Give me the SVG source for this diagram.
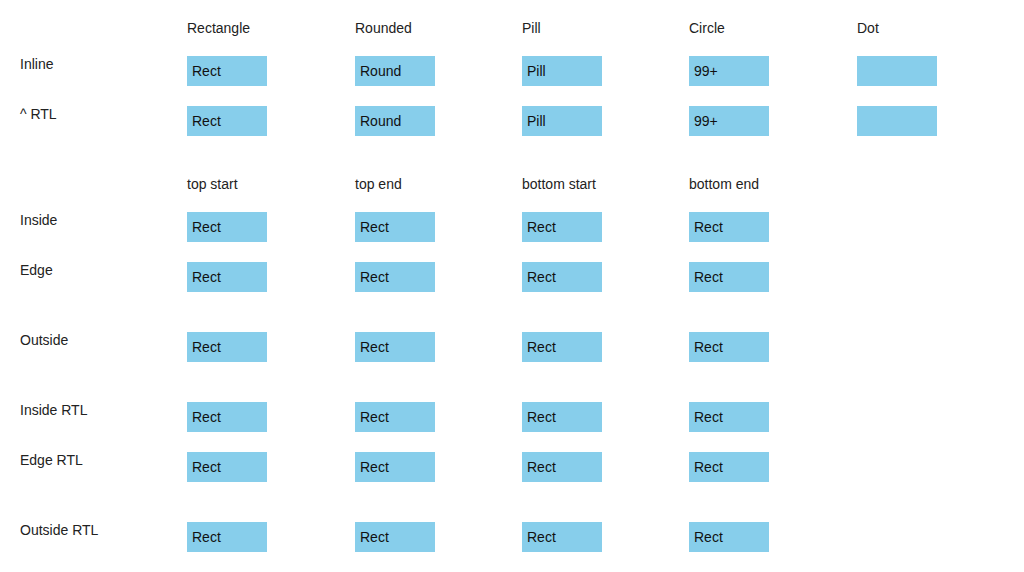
<svg xmlns="http://www.w3.org/2000/svg" width="1024" height="572" viewBox="0 0 1024 572">
<style>
text{font-family:"Liberation Sans",Arial,sans-serif;font-size:14px;fill:#222}
.b{fill:#87ceeb}
.t{fill:#111}
</style>
<rect width="1024" height="572" fill="#fff"/>
<g id="headers1">
<text x="187" y="33">Rectangle</text>
<text x="355" y="33">Rounded</text>
<text x="522" y="33">Pill</text>
<text x="689" y="33">Circle</text>
<text x="857" y="33">Dot</text>
</g>
<g id="labels">
<text x="20" y="69">Inline</text>
<text x="20" y="119">^ RTL</text>
<text x="20" y="225">Inside</text>
<text x="20" y="275">Edge</text>
<text x="20" y="345">Outside</text>
<text x="20" y="415">Inside RTL</text>
<text x="20" y="465">Edge RTL</text>
<text x="20" y="535">Outside RTL</text>
</g>
<g id="headers2">
<text x="187" y="189">top start</text>
<text x="355" y="189">top end</text>
<text x="522" y="189">bottom start</text>
<text x="689" y="189">bottom end</text>
</g>
<g id="row-inline">
<rect class="b" x="187" y="56" width="80" height="30"/><text class="t" x="192" y="76">Rect</text>
<rect class="b" x="355" y="56" width="80" height="30"/><text class="t" x="360" y="76">Round</text>
<rect class="b" x="522" y="56" width="80" height="30"/><text class="t" x="527" y="76">Pill</text>
<rect class="b" x="689" y="56" width="80" height="30"/><text class="t" x="694" y="76">99+</text>
<rect class="b" x="857" y="56" width="80" height="30"/>
</g>
<g id="row-rtl">
<rect class="b" x="187" y="106" width="80" height="30"/><text class="t" x="192" y="126">Rect</text>
<rect class="b" x="355" y="106" width="80" height="30"/><text class="t" x="360" y="126">Round</text>
<rect class="b" x="522" y="106" width="80" height="30"/><text class="t" x="527" y="126">Pill</text>
<rect class="b" x="689" y="106" width="80" height="30"/><text class="t" x="694" y="126">99+</text>
<rect class="b" x="857" y="106" width="80" height="30"/>
</g>
<g id="row-inside">
<rect class="b" x="187" y="212" width="80" height="30"/><text class="t" x="192" y="232">Rect</text>
<rect class="b" x="355" y="212" width="80" height="30"/><text class="t" x="360" y="232">Rect</text>
<rect class="b" x="522" y="212" width="80" height="30"/><text class="t" x="527" y="232">Rect</text>
<rect class="b" x="689" y="212" width="80" height="30"/><text class="t" x="694" y="232">Rect</text>
</g>
<g id="row-edge">
<rect class="b" x="187" y="262" width="80" height="30"/><text class="t" x="192" y="282">Rect</text>
<rect class="b" x="355" y="262" width="80" height="30"/><text class="t" x="360" y="282">Rect</text>
<rect class="b" x="522" y="262" width="80" height="30"/><text class="t" x="527" y="282">Rect</text>
<rect class="b" x="689" y="262" width="80" height="30"/><text class="t" x="694" y="282">Rect</text>
</g>
<g id="row-outside">
<rect class="b" x="187" y="332" width="80" height="30"/><text class="t" x="192" y="352">Rect</text>
<rect class="b" x="355" y="332" width="80" height="30"/><text class="t" x="360" y="352">Rect</text>
<rect class="b" x="522" y="332" width="80" height="30"/><text class="t" x="527" y="352">Rect</text>
<rect class="b" x="689" y="332" width="80" height="30"/><text class="t" x="694" y="352">Rect</text>
</g>
<g id="row-inside-rtl">
<rect class="b" x="187" y="402" width="80" height="30"/><text class="t" x="192" y="422">Rect</text>
<rect class="b" x="355" y="402" width="80" height="30"/><text class="t" x="360" y="422">Rect</text>
<rect class="b" x="522" y="402" width="80" height="30"/><text class="t" x="527" y="422">Rect</text>
<rect class="b" x="689" y="402" width="80" height="30"/><text class="t" x="694" y="422">Rect</text>
</g>
<g id="row-edge-rtl">
<rect class="b" x="187" y="452" width="80" height="30"/><text class="t" x="192" y="472">Rect</text>
<rect class="b" x="355" y="452" width="80" height="30"/><text class="t" x="360" y="472">Rect</text>
<rect class="b" x="522" y="452" width="80" height="30"/><text class="t" x="527" y="472">Rect</text>
<rect class="b" x="689" y="452" width="80" height="30"/><text class="t" x="694" y="472">Rect</text>
</g>
<g id="row-outside-rtl">
<rect class="b" x="187" y="522" width="80" height="30"/><text class="t" x="192" y="542">Rect</text>
<rect class="b" x="355" y="522" width="80" height="30"/><text class="t" x="360" y="542">Rect</text>
<rect class="b" x="522" y="522" width="80" height="30"/><text class="t" x="527" y="542">Rect</text>
<rect class="b" x="689" y="522" width="80" height="30"/><text class="t" x="694" y="542">Rect</text>
</g>
<g id="connectors"/>
</svg>
